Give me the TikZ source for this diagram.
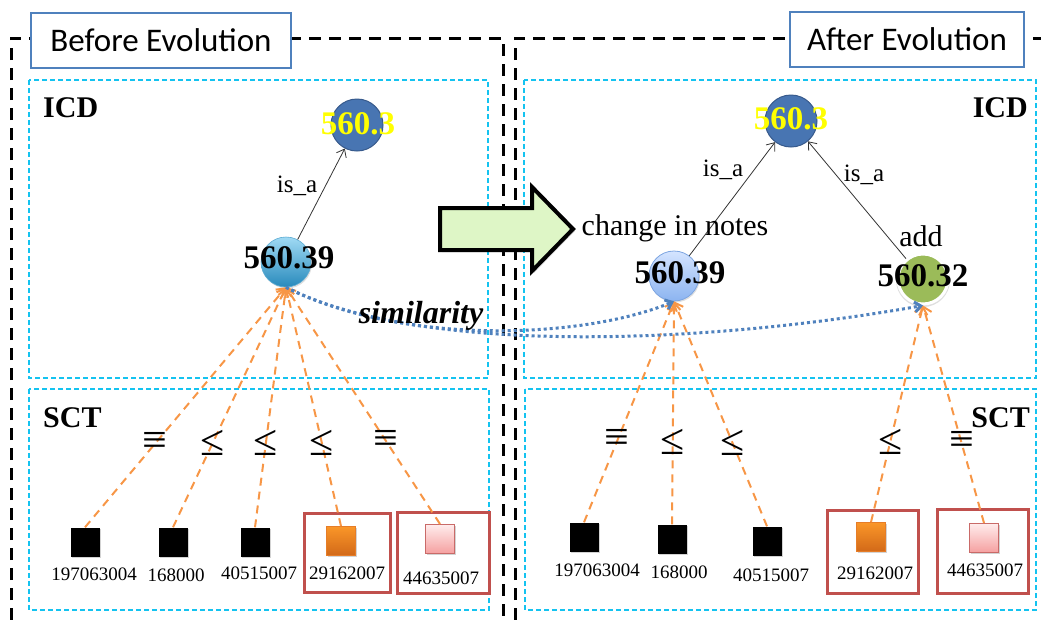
\documentclass[tikz,border=0pt]{standalone}
\usepackage{fontspec}
\setmainfont{Liberation Serif}
\newfontfamily\calibri{Carlito}
\usetikzlibrary{arrows.meta,shadows}

\definecolor{titleblue}{RGB}{79,129,189}
\definecolor{zonecyan}{RGB}{20,195,240}
\definecolor{maporange}{RGB}{247,150,70}
\definecolor{simblue}{RGB}{79,129,189}
\definecolor{markred}{RGB}{192,80,77}
\definecolor{evolgreen}{RGB}{222,246,198}
\definecolor{rootblue}{RGB}{72,117,178}
\definecolor{rootedge}{RGB}{55,90,140}
\definecolor{addgreen}{RGB}{155,187,89}
\definecolor{codeyellow}{RGB}{255,255,0}

\newcommand\sz[1]{\fontsize{#1}{#1}\selectfont}

\tikzset{
  frameline/.style={line width=3pt, dash pattern=on 12pt off 8pt},
  titlebox/.style={draw=titleblue, line width=2pt, fill=white, inner sep=0pt, font=\calibri\sz{33}},
  zonebox/.style={draw=zonecyan, line width=1.5pt, dash pattern=on 5pt off 3pt},
  zonelabel/.style={font=\bfseries\sz{30}, inner sep=0pt},
  concept/.style={circle, inner sep=0pt, minimum size=50pt},
  code/.style={font=\bfseries\sz{33}, inner sep=0pt},
  isa/.style={draw=black!80, line width=0.8pt, -{Straight Barb[length=7pt,width=11pt]}},
  relname/.style={font=\sz{25}, inner sep=0pt},
  note/.style={font=\sz{30}, inner sep=0pt},
  term/.style={minimum size=29pt, inner sep=0pt,
    drop shadow={shadow xshift=1.5pt, shadow yshift=-1.5pt, opacity=0.35}},
  blackterm/.style={term, fill=black},
  orangeterm/.style={term, top color={rgb,255:red,250;green,150;blue,40},
    bottom color={rgb,255:red,210;green,105;blue,25}, draw={rgb,255:red,230;green,125;blue,40}, line width=0.8pt},
  pinkterm/.style={term, top color={rgb,255:red,255;green,236;blue,236},
    bottom color={rgb,255:red,245;green,160;blue,160}, draw=markred!85, line width=1pt},
  termid/.style={font=\sz{19}, inner sep=0pt},
  markbox/.style={draw=markred, line width=3pt, inner sep=0pt},
  maplink/.style={draw=maporange, line width=2pt, dash pattern=on 8pt off 6pt,
    -{Straight Barb[length=7pt,width=13pt]}},
  rel/.style={font=\sz{44}, inner sep=0pt},
  simlink/.style={draw=simblue, line width=3pt, dash pattern=on 3pt off 3pt,
    -{Straight Barb[length=6pt,width=10pt]}},
}

\begin{document}
\begin{tikzpicture}[x=1pt,y=-1pt]
\useasboundingbox (0,0) rectangle (1041,619);

% outer frames for the two states
\draw[frameline] (11,640) -- (11,38) -- (503,38) -- (503,640);
\draw[frameline] (515,640) -- (515,38) -- (1060,38);
\node[titlebox, minimum width=260pt, minimum height=55pt] (before) at (161,40.5) {Before Evolution};
\node[titlebox, minimum width=234pt, minimum height=55pt] (after) at (907,39.5) {After Evolution};

% ICD and SCT zones
\draw[zonebox] (29,80) rectangle (488,378);
\draw[zonebox] (29,389) rectangle (489,610);
\draw[zonebox] (524,80) rectangle (1036,378);
\draw[zonebox] (525,389) rectangle (1036,610);
\node[zonelabel, anchor=base west] (icdL) at (43,117) {ICD};
\node[zonelabel, anchor=base west] (sctL) at (43,427) {SCT};
\node[zonelabel, anchor=base east] (icdR) at (1028,117) {ICD};
\node[zonelabel, anchor=base east] (sctR) at (1030,427) {SCT};

% evolution arrow
\draw[line width=4pt, line join=miter, fill=evolgreen,
  drop shadow={shadow xshift=2pt, shadow yshift=-2pt, opacity=0.3}]
  (440,208) -- (532,208) -- (532,187) -- (573,229) -- (532,271) -- (532,250) -- (440,250) -- cycle;

% ICD concepts, before
\node[concept, minimum size=52pt, fill=rootblue, draw=rootedge, line width=1pt] (L3) at (357,125) {};
\node[concept, top color={rgb,255:red,160;green,218;blue,244}, bottom color={rgb,255:red,40;green,138;blue,188},
  draw={rgb,255:red,90;green,170;blue,210}, line width=0.6pt,
  drop shadow={shadow xshift=1pt, shadow yshift=-1.5pt, opacity=0.25}] (L39) at (286,262) {};

% ICD concepts, after
\node[concept, minimum size=52pt, fill=rootblue, draw=rootedge, line width=1pt] (R3) at (791,121) {};
\node[concept, top color={rgb,255:red,212;green,228;blue,255}, bottom color={rgb,255:red,140;green,180;blue,240},
  draw={rgb,255:red,125;green,165;blue,225}, line width=0.8pt,
  drop shadow={shadow xshift=1pt, shadow yshift=-1.5pt, opacity=0.25}] (R39) at (674,276) {};
\node[concept, fill=addgreen, draw=white, line width=3pt,
  drop shadow={shadow xshift=0pt, shadow yshift=-1pt, shadow scale=1.08, opacity=0.25}] (R32) at (923,279) {};

% is_a links
\draw[isa] (L39) -- (L3);
\draw[isa] (R39) -- (R3);
\draw[isa] (R32) -- (R3);
\node[relname] (isaL) at (297,186) {is\_a};
\node[relname] (isaR1) at (723,170) {is\_a};
\node[relname] (isaR2) at (864,175) {is\_a};
\node[note] (chg) at (675,228) {change in notes};
\node[note] (addn) at (921,236) {add};

% concept codes
\node[code, text=codeyellow] (L3code) at (358,124) {560.3};
\node[code, text=codeyellow] (R3code) at (791,119) {560.3};
\node[code] (L39code) at (289,258) {560.39};
\node[code] (R39code) at (680,273) {560.39};
\node[code] (R32code) at (923,276) {560.32};

% highlighted SCT terms
\node[markbox, minimum width=86pt, minimum height=79pt] (lbox4) at (347,552.5) {};
\node[markbox, minimum width=92pt, minimum height=81pt] (lbox5) at (443,552.5) {};
\node[markbox, minimum width=91pt, minimum height=83pt] (rbox4) at (872.5,551.5) {};
\node[markbox, minimum width=91pt, minimum height=84pt] (rbox5) at (982.5,551) {};

% SCT terms, before
\node[blackterm] (ls1) at (85,542) {};
\node[blackterm] (ls2) at (173,542) {};
\node[blackterm] (ls3) at (255,542) {};
\node[orangeterm] (ls4) at (341,541) {};
\node[pinkterm] (ls5) at (440,539) {};
\node[termid] (lt1) at (94,574) {197063004};
\node[termid] (lt2) at (176,575) {168000};
\node[termid] (lt3) at (259,573) {40515007};
\node[termid] (lt4) at (347,573) {29162007};
\node[termid] (lt5) at (441,578) {44635007};

% SCT terms, after
\node[blackterm] (rs1) at (584,537) {};
\node[blackterm] (rs2) at (672,539) {};
\node[blackterm] (rs3) at (767,541) {};
\node[orangeterm] (rs4) at (871,537) {};
\node[pinkterm] (rs5) at (984,538) {};
\node[termid] (rt1) at (597,570) {197063004};
\node[termid] (rt2) at (679,572) {168000};
\node[termid] (rt3) at (771,575) {40515007};
\node[termid] (rt4) at (875,573) {29162007};
\node[termid] (rt5) at (985,570) {44635007};

% mappings, before
\draw[maplink] (ls1.north) -- node[rel, pos=0.35] {≡} (L39.south);
\draw[maplink] (ls2.north) -- node[rel, pos=0.35] {≤} (L39.south);
\draw[maplink] (ls3.north) -- node[rel, pos=0.35] {≤} (L39.south);
\draw[maplink] (ls4.north) -- node[rel, pos=0.35] {≤} (L39.south);
\draw[maplink] (ls5.north) -- node[rel, pos=0.35] {≡} (L39.south);

% mappings, after
\draw[maplink] (rs1.north) -- node[rel, pos=0.37] {≡} (R39.south);
\draw[maplink] (rs2.north) -- node[rel, pos=0.37] {≤} (R39.south);
\draw[maplink] (rs3.north) -- node[rel, pos=0.37] {≤} (R39.south);
\draw[maplink] (rs4.north) -- node[rel, pos=0.37] {≤} (R32.south);
\draw[maplink] (rs5.north) -- node[rel, pos=0.37] {≡} (R32.south);

% similarity links
\draw[simlink] (L39.south) .. controls (400,345) and (580,340) .. (R39.south);
\draw[simlink] (L39.south) .. controls (420,355) and (700,345) .. (R32.south);
\node[font=\bfseries\itshape\sz{32}, inner sep=0pt, anchor=base] (sim) at (421,323) {similarity};
\end{tikzpicture}
\end{document}
